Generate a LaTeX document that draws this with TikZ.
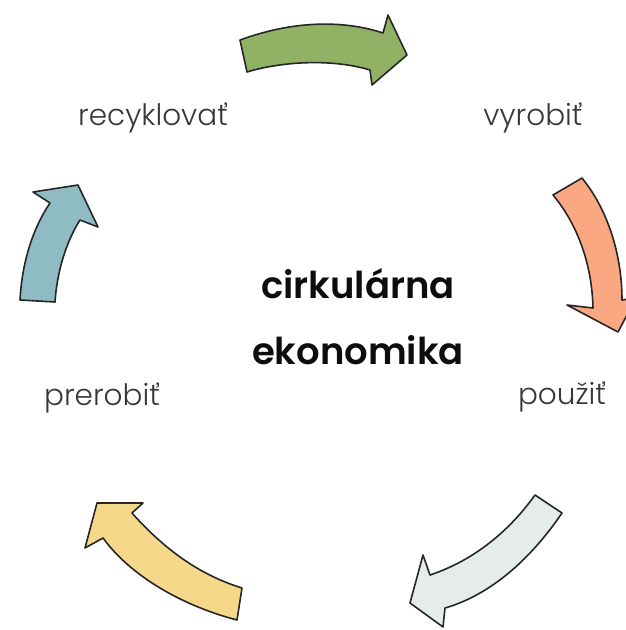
\documentclass[tikz,border=0pt]{standalone}
\usepackage{fontspec}
\setmainfont{Poppins}[UprightFont=* Light, BoldFont=* SemiBold]
\begin{document}
\begin{tikzpicture}[x=1pt,y=-1pt,
  cyc/.style={draw=black!85, line width=1.6pt, line join=round},
  lbl/.style={font=\fontsize{29.5}{34}\selectfont, text=black!78, inner sep=0pt},
  ctr/.style={font=\fontsize{37}{42}\selectfont\bfseries, text=black!95, inner sep=0pt}]
\definecolor{cgreen}{HTML}{91B265}
\definecolor{corange}{HTML}{F9A882}
\definecolor{cblue}{HTML}{8FBCC3}
\definecolor{cyellow}{HTML}{F6D88A}
\definecolor{cgrey}{HTML}{E6ECEC}
\useasboundingbox (0,0) rectangle (625,630);
% green
\draw[cyc, fill=cgreen] (240,40) .. controls (300,18) and (350,22) .. (383,33) -- (388,15) -- (407,55) -- (372,85) -- (370,70) .. controls (330,58) and (280,62) .. (247,72) -- cycle;
% orange
\draw[cyc, fill=corange] (553,195) -- (582,178) .. controls (608,210) and (622,255) .. (622,300) -- (636,298) -- (618,332) -- (567,305) -- (593,308) .. controls (592,265) and (578,225) .. (553,195) -- cycle;
% blue
\draw[cyc, fill=cblue] (20,300) .. controls (22,262) and (33,228) .. (50,203) -- (33,192) -- (78,185) -- (98,227) -- (80,220) .. controls (66,242) and (57,272) .. (55,302) -- cycle;
% yellow
\draw[cyc, fill=cyellow] (97,503) -- (143,503) -- (132,513) .. controls (165,550) and (200,575) .. (242,588) -- (237,620) .. controls (180,605) and (130,575) .. (103,538) -- (85,548) -- cycle;
% grey
\draw[cyc, fill=cgrey] (535,495) -- (562,513) .. controls (530,560) and (490,595) .. (445,608) -- (443,627) -- (410,603) -- (423,555) -- (430,575) .. controls (475,560) and (510,530) .. (535,495) -- cycle;
% labels
\node[lbl] (rec) at (153,118) {recyklovať};
\node[lbl] (vyr) at (533,118) {vyrobiť};
\node[lbl] (pre) at (102,398) {prerobiť};
\node[lbl] (pou) at (562,397) {použiť};
\node[ctr] (c1) at (358,284) {cirkulárna};
\node[ctr] (c2) at (358,350) {ekonomika};
\end{tikzpicture}
\end{document}
